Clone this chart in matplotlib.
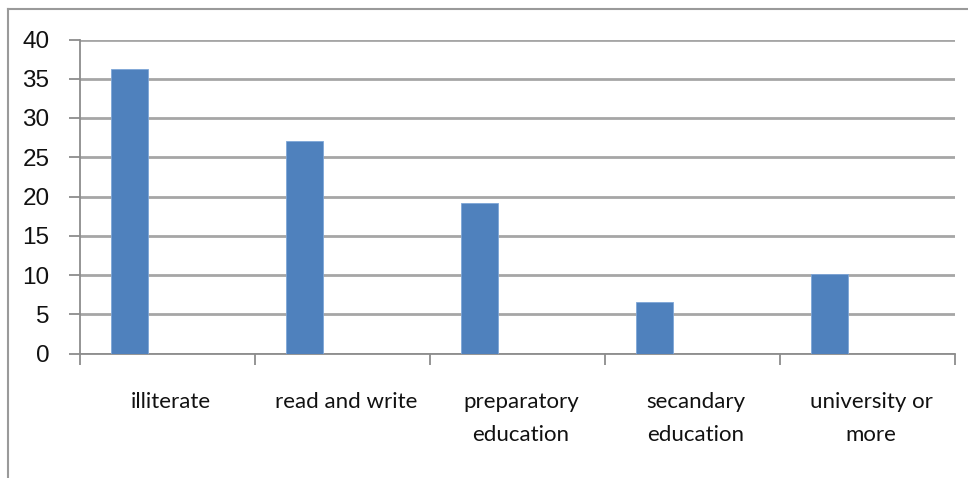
import matplotlib
matplotlib.use("Agg")
import matplotlib.pyplot as plt
from matplotlib.lines import Line2D
import numpy as np

categories = ["illiterate", "read and write", "preparatory\neducation", "secandary\neducation", "university or\nmore"]
values = [36.3, 27.1, 19.2, 6.6, 10.1]
yticks = [0, 5, 10, 15, 20, 25, 30, 35, 40]

fig = plt.figure(figsize=(9.68, 4.78), dpi=100)
ax = fig.add_axes([80/968, 1-353.5/478, (955-80)/968, (353.5-39.5)/478])

n = len(categories)
idx = np.arange(n)
ax.bar(idx + 0.283, values, width=0.215, color="#4f81bd", edgecolor="#7ea6d8", linewidth=0.6, zorder=3)

ax.set_xlim(0, n)
ax.set_ylim(0, 40)
ax.set_yticks(yticks)
ax.set_yticklabels([str(v) for v in yticks], family=["Liberation Sans", "DejaVu Sans"], fontsize=17.5, color="#111111")
ax.yaxis.grid(True, color="#a6a6a6", linewidth=2.0, zorder=0)
ax.set_axisbelow(True)

ax.set_xticks(idx + 0.52)
ax.set_xticklabels(categories, family=["Lato", "DejaVu Sans"], fontsize=16, linespacing=1.8, color="#111111")
ax.set_xticks(np.arange(n + 1), minor=True)
ax.tick_params(axis="x", which="major", length=0, pad=28)
ax.tick_params(axis="x", which="minor", length=8, width=1.3, color="#8c8c8c")
ax.tick_params(axis="y", length=8, width=1.3, color="#8c8c8c", pad=14)

for s in ["top", "right"]:
    ax.spines[s].set_visible(False)
for s in ["left", "bottom"]:
    ax.spines[s].set_color("#8c8c8c")
    ax.spines[s].set_linewidth(1.3)

# outer chart frame
fig.add_artist(Line2D([7.5/968, 7.5/968], [0, 1-9/478], transform=fig.transFigure, color="#9a9a9a", linewidth=1.5))
fig.add_artist(Line2D([7.5/968, 1], [1-9/478, 1-9/478], transform=fig.transFigure, color="#9a9a9a", linewidth=1.5))

fig.savefig("out.png", dpi=100)
